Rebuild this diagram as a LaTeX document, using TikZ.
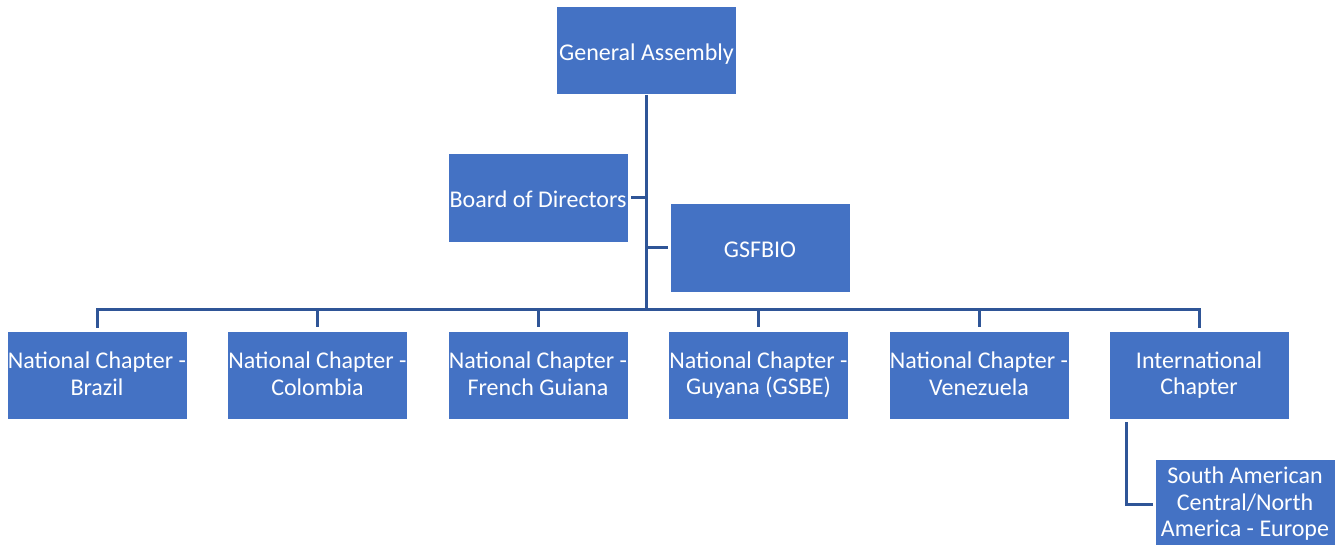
\documentclass[tikz,border=0pt]{standalone}
\usepackage{fontspec}
\setmainfont{Carlito}
\definecolor{boxblue}{HTML}{4472C4}
\definecolor{linkblue}{HTML}{2F5597}
\newcommand\orgstrut{\rule[-3pt]{0pt}{26pt}}
\begin{document}
\begin{tikzpicture}[x=1pt,y=-1pt,
  orgbox/.style={fill=boxblue,draw=white,line width=0.6pt,text=white,minimum width=180pt,minimum height=88pt,inner sep=0pt,align=center,font=\fontsize{24}{26.5}\selectfont,execute at begin node=\orgstrut,execute at end node=\orgstrut},
  link/.style={draw=linkblue,line width=3pt}]
\useasboundingbox (0,0) rectangle (1339,545);
\node[orgbox] (ga) at (646.5,50.5) {General Assembly};
\node[orgbox,minimum height=89pt] (bod) at (538,197.5) {Board of Directors};
\node[orgbox,minimum height=89pt] (gsf) at (760,247.5) {GSFBIO};
\node[orgbox] (c1) at (97,375) {National Chapter -\\Brazil};
\node[orgbox] (c2) at (317.5,375) {National Chapter -\\Colombia};
\node[orgbox] (c3) at (538,375) {National Chapter -\\French Guiana};
\node[orgbox] (c4) at (758.5,375) {National Chapter -\\Guyana (GSBE)};
\node[orgbox] (c5) at (979,375) {National Chapter -\\Venezuela};
\node[orgbox] (c6) at (1199,375) {International\\Chapter};
\node[orgbox,minimum height=90pt] (sub) at (1245,504) {South American\\Central/North\\America - Europe};
\coordinate (trunk) at (646,310);
\coordinate (bus) at (646,310);
\draw[link] (ga.south) -- (ga.south |- trunk);
\draw[link] (ga.south |- bod.east) -- ([xshift=3pt]bod.east);
\draw[link] (ga.south |- gsf.west) -- ([xshift=-2pt]gsf.west);
\draw[link,line cap=rect] ([yshift=4pt]c1.north) -- (c1.north |- bus) -- (c6.north |- bus) -- ([yshift=4pt]c6.north);
\foreach \c in {c2,c3,c4,c5}{
  \draw[link] (\c.north |- bus) -- ([yshift=4pt]\c.north);
}
\coordinate (subtop) at (1126,422);
\draw[link] (subtop) -- (subtop |- sub.west) -- ([xshift=-2pt]sub.west);
\end{tikzpicture}
\end{document}
